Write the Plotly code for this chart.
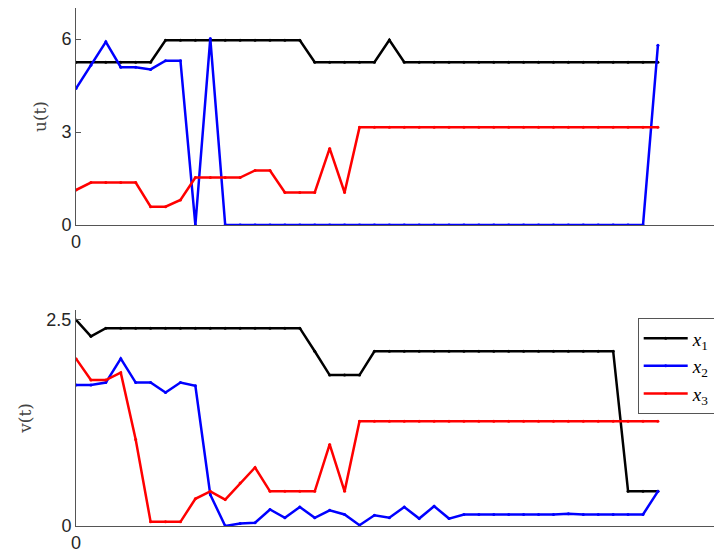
import plotly.graph_objects as go

t = list(range(40))

u_x1 = [5.25]*5 + [5.25] + [5.96]*10 + [5.25]*5 + [5.97] + [5.25]*18
u_x2 = [4.4, 5.15, 5.91, 5.09, 5.09, 5.02, 5.3, 5.3, 0.0, 6.02, 0.0] + [0.0]*28 + [5.8]
u_x3 = [1.13, 1.37, 1.37, 1.37, 1.37, 0.59, 0.59, 0.81, 1.53, 1.53, 1.53, 1.53,
        1.76, 1.76, 1.05, 1.05, 1.05, 2.47, 1.05] + [3.15]*21

v_x1 = [2.5, 2.30] + [2.40]*14 + [2.12, 1.83, 1.83, 1.83] + [2.12]*17 + [0.42]*3
v_x2 = [1.71, 1.71, 1.74, 2.03, 1.74, 1.74, 1.62, 1.74, 1.70, 0.38, 0.0, 0.03,
        0.04, 0.20, 0.10, 0.23, 0.10, 0.19, 0.14, 0.01, 0.13, 0.10, 0.23, 0.09,
        0.24, 0.09, 0.14, 0.14, 0.14, 0.14, 0.14, 0.14, 0.14, 0.15, 0.14, 0.14,
        0.14, 0.14, 0.14, 0.42]
v_x3 = [2.03, 1.77, 1.77, 1.86, 1.05, 0.05, 0.05, 0.05, 0.33, 0.42, 0.32, 0.52,
        0.71, 0.42, 0.42, 0.42, 0.42, 0.99, 0.42] + [1.27]*21

names = ["<i>x</i><sub>1</sub>", "<i>x</i><sub>2</sub>", "<i>x</i><sub>3</sub>"]
colors = ["#000000", "#0000ff", "#ff0000"]

fig = go.Figure()
for ys, c, n in zip([u_x1, u_x2, u_x3], colors, names):
    fig.add_trace(go.Scatter(x=t, y=ys, mode="lines+markers", line=dict(color=c, width=2.5),
                             marker=dict(size=3, color=c), name=n, showlegend=False,
                             xaxis="x", yaxis="y"))
for ys, c, n in zip([v_x1, v_x2, v_x3], colors, names):
    fig.add_trace(go.Scatter(x=t, y=ys, mode="lines+markers", line=dict(color=c, width=2.5),
                             marker=dict(size=3, color=c), name=n, showlegend=True,
                             xaxis="x2", yaxis="y2"))

axcommon = dict(showgrid=False, zeroline=False, showline=True, linecolor="#555555",
                linewidth=1, ticks="inside", ticklen=5, tickcolor="#555555", automargin=False,
                tickfont=dict(family="Liberation Sans, Arial", size=18, color="#262626"))

titlefont = dict(family="DejaVu Serif, Liberation Serif", size=17, color="#444444")

fig.update_layout(
    width=722, height=554,
    margin=dict(l=68, r=0, t=0, b=36),
    plot_bgcolor="white", paper_bgcolor="white",
    xaxis=dict(domain=[0, 1], range=[0, 43.83], tickvals=[0], anchor="y", **axcommon),
    yaxis=dict(domain=[0.581, 1], range=[0, 7], tickvals=[0, 3, 6], anchor="x",
               title=dict(text="u(t)", standoff=10, font=titlefont), **axcommon),
    xaxis2=dict(domain=[0, 1], range=[0, 43.83], tickvals=[0], anchor="y2", **axcommon),
    yaxis2=dict(domain=[0, 0.417], range=[0, 2.62], tickvals=[0, 2.5], anchor="x2",
                title=dict(text="v(t)", standoff=10, font=titlefont), **axcommon),
    legend=dict(x=(629.7 - 68) / 654, y=0.401, xanchor="left", yanchor="top",
                bordercolor="#555555", borderwidth=1, bgcolor="white",
                font=dict(family="Liberation Serif, DejaVu Serif", size=19, color="#000000"),
                tracegroupgap=0, itemwidth=44),
    showlegend=True,
)

fig.write_html("out.html")
